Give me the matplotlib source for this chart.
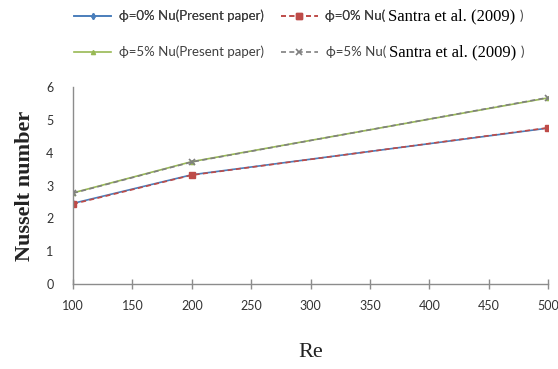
import matplotlib
matplotlib.use("Agg")
import matplotlib.pyplot as plt
from matplotlib.transforms import Bbox

plt.rcParams['font.family'] = ['Lato', 'DejaVu Sans']

# Reynolds numbers and Nusselt numbers
re_values = [100, 200, 500]
nu_phi0_present = [2.46, 3.33, 4.75]
nu_phi0_santra = [2.44, 3.32, 4.76]
nu_phi5_present = [2.78, 3.73, 5.67]
nu_phi5_santra = [2.77, 3.72, 5.68]

x_ticks = [100, 150, 200, 250, 300, 350, 400, 450, 500]
y_ticks = [0, 1, 2, 3, 4, 5, 6]

labels = [
    "ϕ=0% Nu(Present paper)",
    "ϕ=5% Nu(Present paper)",
    "ϕ=0% Nu(",
    "ϕ=5% Nu(",
]
reference_name = "Santra et al. (2009)"

blue = '#4A7EBB'
red = '#BE4B48'
green = '#98B954'
gray = '#7F7F7F'
text_gray = '#404040'

fig = plt.figure(figsize=(5.58, 3.69), dpi=100)
ax = fig.add_axes([0.131, 0.230, 0.851, 0.534])

h1, = ax.plot(re_values, nu_phi0_present, color=blue, lw=1.2, marker='d', ms=3)
h2, = ax.plot(re_values, nu_phi5_present, color=green, lw=1.2, marker='^', ms=3)
h3, = ax.plot(re_values, nu_phi0_santra, color=red, lw=1.2, ls=(0, (3, 2)),
              marker='s', ms=4.5)
h4, = ax.plot(re_values, nu_phi5_santra, color=gray, lw=1.2, ls=(0, (3, 2)),
              marker='x', ms=4, mew=1.2)

ax.set_xlim(100, 500)
ax.set_ylim(0, 6)
ax.set_xticks(x_ticks)
ax.set_yticks(y_ticks)
for s in ['top', 'right']:
    ax.spines[s].set_visible(False)
for s in ['left', 'bottom']:
    ax.spines[s].set_color('#8C8C8C')
    ax.spines[s].set_linewidth(1.0)
ax.tick_params(axis='x', direction='inout', length=7, width=1.0,
               color='#8C8C8C', labelsize=9, labelcolor='#333333', pad=8)
ax.tick_params(axis='y', length=0, labelsize=9, labelcolor='#333333', pad=14)
for t in ax.get_xticklabels() + ax.get_yticklabels():
    t.set_clip_on(False)

ax.set_xlabel("Re", family='Liberation Serif', fontsize=16, color='#222222',
              labelpad=22)
ax.set_ylabel("Nusselt number", family='Liberation Serif', fontsize=16,
              fontweight='bold', color='#222222', labelpad=8)

# one legend per row so the entries in a row share a baseline
legend_kw = dict(ncol=2, loc='center left', frameon=False, fontsize=9.5,
                 handlelength=2.8, handletextpad=0.6, columnspacing=1.25,
                 labelcolor=text_gray)
leg1 = fig.legend([h1, h3], [labels[0], labels[2]],
                  bbox_to_anchor=(0.112, 1 - 16 / 369), **legend_kw)
fig.add_artist(leg1)
leg2 = fig.legend([h2, h4], [labels[1], labels[3]],
                  bbox_to_anchor=(0.112, 1 - 52 / 369), **legend_kw)

# the cited work is set in a serif face after the "Nu(" prefix
fig.canvas.draw()
renderer = fig.canvas.get_renderer()
inv = fig.transFigure.inverted()
for leg in (leg1, leg2):
    prefix = leg.get_texts()[1]
    bb = Bbox(inv.transform(prefix.get_window_extent(renderer)))
    cite = fig.text(bb.x1 + 0.005, (bb.y0 + bb.y1) / 2, reference_name,
                    family='Liberation Serif', fontsize=12, color='black',
                    va='center', ha='left')
    cb = Bbox(inv.transform(cite.get_window_extent(renderer)))
    fig.text(cb.x1 + 0.008, (bb.y0 + bb.y1) / 2, ")", fontsize=9.5,
             color=text_gray, va='center', ha='left')

fig.savefig("out.png", dpi=100)
